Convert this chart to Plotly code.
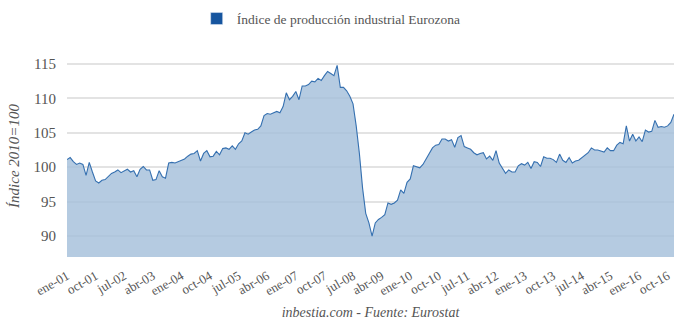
import plotly.graph_objects as go

months_es = ["ene", "feb", "mar", "abr", "may", "jun", "jul", "ago", "sep", "oct", "nov", "dic"]
years = list(range(2001, 2017))
categories = [f"{m}-{str(y)[2:]}" for y in years for m in months_es]

values = [
    101.1, 101.4, 100.8, 100.4, 100.6, 100.4, 98.8, 100.7, 99.3, 98.0, 97.7, 98.1,
    98.2, 98.6, 99.1, 99.3, 99.6, 99.2, 99.5, 99.7, 99.3, 99.5, 98.6, 99.7,
    100.1, 99.6, 99.6, 98.1, 98.2, 99.5, 98.6, 98.4, 100.6, 100.7, 100.6, 100.8,
    101.0, 101.2, 101.6, 101.9, 102.0, 102.4, 100.9, 102.0, 102.4, 101.5, 101.6, 102.3,
    101.8, 102.7, 102.8, 102.6, 103.1, 102.6, 103.4, 103.8, 105.0, 104.8, 105.1, 105.4,
    105.5, 106.0, 107.5, 107.8, 107.7, 107.9, 108.1, 107.9, 108.8, 110.8, 109.8, 110.3,
    111.0, 109.8, 111.8, 111.8, 112.0, 112.5, 112.4, 112.9, 112.6, 113.3, 113.9, 113.6,
    113.3, 114.8, 111.6, 111.6, 111.1, 110.3, 109.2, 106.0, 102.0, 97.0, 93.3, 91.9,
    90.0, 91.9, 92.4, 92.7, 93.1, 94.8, 94.6, 94.8, 95.2, 96.7, 96.2, 97.8,
    98.3, 100.2, 100.1, 99.9, 100.4, 101.2, 102.1, 102.8, 103.2, 103.3, 104.1, 104.1,
    103.8, 104.0, 102.9, 104.3, 104.6, 103.0, 102.8, 102.6, 102.1, 101.8, 102.0, 102.1,
    101.2, 101.6, 101.0, 102.4, 100.6, 99.9, 99.1, 99.6, 99.3, 99.3, 100.2, 100.5,
    100.3, 100.7, 99.8, 100.8, 100.7, 100.1, 101.5, 101.3, 101.3, 101.1, 100.7, 101.9,
    101.0, 100.7, 101.4, 100.6, 100.9, 101.0, 101.4, 101.8, 102.1, 102.8, 102.5, 102.5,
    102.4, 102.2, 102.8, 102.4, 102.4, 103.2, 103.6, 103.4, 106.0, 103.8, 104.8, 103.8,
    104.4, 103.7, 105.4, 105.1, 105.2, 106.8, 105.8, 105.9, 105.8, 106.0, 106.5, 107.7,
]

tick_labels = categories[::9]
y_ticks = [90, 95, 100, 105, 110, 115]

series_name = "Índice de producción industrial Eurozona"
y_title = "Índice 2010=100"
x_title = "inbestia.com - Fuente: Eurostat"

FONT = "Liberation Serif"
TXT = "#555555"

fig = go.Figure()
fig.add_trace(go.Scatter(
    x=categories, y=values, mode="lines", fill="tozeroy",
    line=dict(color="#3570b0", width=1.1),
    fillcolor="rgba(163,190,217,0.8)",
    showlegend=False, hoverinfo="x+y",
))
fig.add_trace(go.Bar(
    x=[None], y=[None], name=series_name,
    marker=dict(color="#16559f"), showlegend=True,
))

fig.update_layout(
    width=680, height=326,
    margin=dict(l=67, r=6, t=55, b=69),
    paper_bgcolor="white", plot_bgcolor="white",
    font=dict(family=FONT, color=TXT, size=14),
    showlegend=True,
    legend=dict(orientation="h", x=0.487, xanchor="center", y=0.99, yanchor="top",
                xref="container", yref="container",
                font=dict(family=FONT, size=13.5, color=TXT)),
    xaxis=dict(
        type="category", range=[0, len(categories) - 1],
        tickmode="array", tickvals=tick_labels, ticktext=tick_labels,
        tickangle=-30, showgrid=False, showline=False, ticks="",
        ticklabelstandoff=8,
        tickfont=dict(family=FONT, size=13, color=TXT),
        title=dict(text=x_title, font=dict(family=FONT, size=14, color=TXT, style="italic"), standoff=9),
    ),
    yaxis=dict(
        range=[86.95, 116.3], tickvals=y_ticks, showgrid=True, gridcolor="#e3e3e3", gridwidth=1.5,
        zeroline=False, showline=False, ticks="", ticklabelstandoff=10,
        tickfont=dict(family=FONT, size=15, color=TXT),
        title=dict(text=y_title, font=dict(family=FONT, size=15, color=TXT, style="italic"), standoff=10),
    ),
)

fig.write_html("out.html")
